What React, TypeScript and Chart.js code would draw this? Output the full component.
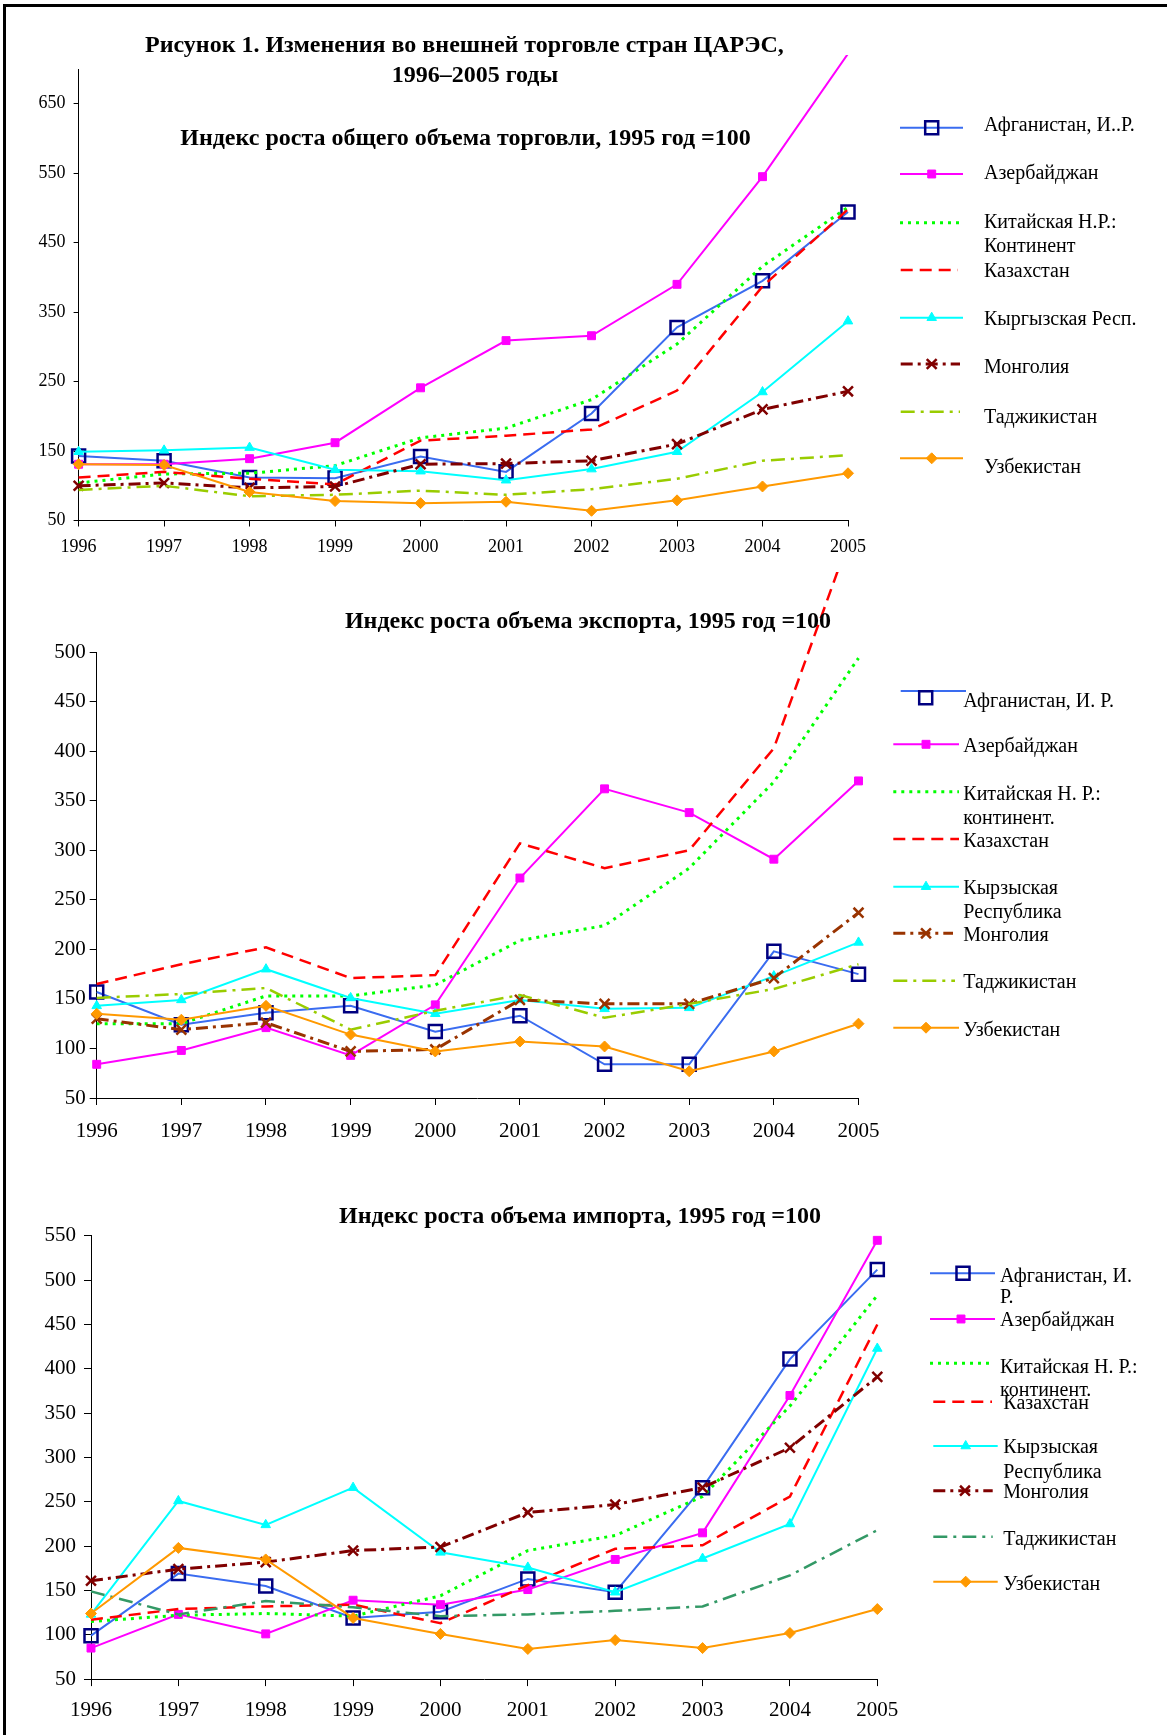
import React, { useEffect, useRef } from 'react';
import { Chart, registerables } from 'chart.js';
import { drawPoint } from 'chart.js/helpers';

Chart.register(...registerables);

const FONT = "'Liberation Serif', 'Times New Roman', serif";

// ---------- data ----------
const years = ['1996', '1997', '1998', '1999', '2000', '2001', '2002', '2003', '2004', '2005'];

const totalYTicks = [50, 150, 250, 350, 450, 550, 650];
const exportYTicks = [50, 100, 150, 200, 250, 300, 350, 400, 450, 500];
const importYTicks = [50, 100, 150, 200, 250, 300, 350, 400, 450, 500, 550];

// Total trade index, 1995 = 100
const totalAfghanistan = [143, 136, 112, 111, 142, 120, 204, 328, 395, 494];
const totalAzerbaijan = [131, 131, 139, 162, 241, 309, 316, 390, 545, 722];
const totalChina = [104, 117, 118, 129, 169, 183, 224, 304, 416, 501];
const totalKazakhstan = [112, 120, 110, 102, 165, 172, 181, 237, 387, 498];
const totalKyrgyz = [149, 151, 155, 123, 121, 108, 124, 149, 235, 337];
const totalMongolia = [100, 104, 97, 99, 131, 132, 136, 160, 210, 236];
const totalTajikistan = [94, 100, 85, 87, 93, 87, 95, 110, 136, 144];
const totalUzbekistan = [131, 130, 91, 78, 75, 77, 64, 79, 99, 118];

// Export index, 1995 = 100
const exportAfghanistan = [157, 124, 136, 143, 117, 133, 84, 84, 198, 175];
const exportAzerbaijan = [84, 98, 121, 93, 144, 272, 362, 338, 291, 370];
const exportChina = [125, 125, 153, 153, 164, 209, 224, 282, 369, 494];
const exportKazakhstan = [165, 185, 202, 171, 174, 307, 282, 300, 403, 640];
const exportKyrgyz = [143, 149, 180, 151, 135, 149, 140, 141, 173, 207];
const exportMongolia = [130, 119, 126, 97, 99, 149, 145, 145, 171, 237];
const exportTajikistan = [151, 155, 161, 119, 138, 154, 131, 145, 160, 185];
const exportUzbekistan = [135, 129, 143, 114, 97, 107, 102, 77, 97, 125];

// Import index, 1995 = 100
const importAfghanistan = [99, 169, 155, 119, 126, 163, 148, 266, 411, 512];
const importAzerbaijan = [85, 123, 101, 139, 134, 151, 185, 215, 370, 545];
const importChina = [115, 122, 124, 121, 144, 195, 212, 256, 358, 483];
const importKazakhstan = [117, 129, 132, 134, 113, 156, 197, 201, 256, 450];
const importKyrgyz = [123, 251, 224, 266, 193, 176, 148, 186, 225, 423];
const importMongolia = [161, 174, 182, 195, 199, 238, 247, 266, 311, 391];
const importTajikistan = [149, 123, 138, 131, 121, 123, 127, 132, 167, 218];
const importUzbekistan = [124, 198, 185, 119, 101, 84, 94, 85, 102, 129];

const totalNames = [
  ['Афганистан, И..Р.'], ['Азербайджан'], ['Китайская Н.Р.:', 'Континент'], ['Казахстан'],
  ['Кыргызская Респ.'], ['Монголия'], ['Таджикистан'], ['Узбекистан'],
];
const exportNames = [
  ['Афганистан, И. Р.'], ['Азербайджан'], ['Китайская Н. Р.:', 'континент.'], ['Казахстан'],
  ['Кырзыская', 'Республика'], ['Монголия'], ['Таджикистан'], ['Узбекистан'],
];
const importNames = [
  ['Афганистан, И.', 'Р.'], ['Азербайджан'], ['Китайская Н. Р.:', 'континент.'], ['Казахстан'],
  ['Кырзыская', 'Республика'], ['Монголия'], ['Таджикистан'], ['Узбекистан'],
];

const mainTitle1 = 'Рисунок 1. Изменения во внешней торговле стран ЦАРЭС,';
const mainTitle2 = '1996–2005 годы';
const totalTitle = 'Индекс роста общего объема торговли, 1995 год =100';
const exportTitle = 'Индекс роста объема экспорта, 1995 год =100';
const importTitle = 'Индекс роста объема импорта, 1995 год =100';

// ---------- styles ----------
function seriesStyles(mongoliaColor: string, tajikColor: string): any[] {
  return [
    { borderColor: '#3a6cf0', borderWidth: 2, pointStyle: 'rect', pointRadius: 9.2, pointBackgroundColor: 'rgba(0,0,0,0)', pointBorderColor: '#000080', pointBorderWidth: 2.5 },
    { borderColor: '#ff00ff', borderWidth: 2, pointStyle: 'rect', pointRadius: 5.6, pointBackgroundColor: '#ff00ff', pointBorderColor: '#ff00ff', pointBorderWidth: 1 },
    { borderColor: '#00ff00', borderWidth: 3, borderDash: [3, 5], pointRadius: 0 },
    { borderColor: '#ff0000', borderWidth: 2.5, borderDash: [12, 7], pointRadius: 0 },
    { borderColor: '#00ffff', borderWidth: 2, pointStyle: 'triangle', pointRadius: 5.5, pointBackgroundColor: '#00ffff', pointBorderColor: '#00ffff', pointBorderWidth: 1 },
    { borderColor: mongoliaColor, borderWidth: 3, borderDash: [12, 5, 3, 5], pointStyle: 'crossRot', pointRadius: 7, pointBackgroundColor: mongoliaColor, pointBorderColor: mongoliaColor, pointBorderWidth: 2.5 },
    { borderColor: tajikColor, borderWidth: 2.5, borderDash: [14, 6, 3, 6], pointRadius: 0 },
    { borderColor: '#ff9900', borderWidth: 2, pointStyle: 'rectRot', pointRadius: 5.5, pointBackgroundColor: '#ff9900', pointBorderColor: '#ff9900', pointBorderWidth: 1 },
  ];
}

type LegendItem = { y: number; x1: number; x2: number; mx: number; my?: number; tx: number; ty: number[] };

type PanelCfg = {
  top: number;
  height: number;
  area: { left: number; right: number; top: number; bottom: number };
  yMin: number;
  yMax: number;
  yTicks: number[];
  tickSize: number;
  yTickLen: number;
  yPad: number;
  xTickLen: number;
  xPad: number;
  series: number[][];
  names: string[][];
  styles: any[];
  extra?: Record<number, any>;
  texts: { text: string; x: number; y: number; size: number }[];
  legend: LegendItem[];
};

const W = 1167;

function overlayPlugin(cfg: PanelCfg) {
  return {
    id: 'overlay',
    afterDraw(chart: any) {
      const ctx = chart.ctx as CanvasRenderingContext2D;
      ctx.save();
      ctx.fillStyle = '#000';
      ctx.textAlign = 'center';
      ctx.textBaseline = 'alphabetic';
      for (const t of cfg.texts) {
        ctx.font = `bold ${t.size}px ${FONT}`;
        ctx.fillText(t.text, t.x, t.y);
      }
      // legend
      chart.data.datasets.forEach((ds: any, i: number) => {
        const it = cfg.legend[i];
        if (!it) return;
        ctx.save();
        ctx.strokeStyle = ds.borderColor;
        ctx.lineWidth = ds.borderWidth;
        ctx.setLineDash(ds.borderDash || []);
        ctx.beginPath();
        ctx.moveTo(it.x1, it.y);
        ctx.lineTo(it.x2, it.y);
        ctx.stroke();
        ctx.setLineDash([]);
        const r = Array.isArray(ds.pointRadius) ? ds.pointRadius[0] : ds.pointRadius;
        if (r > 0) {
          ctx.fillStyle = ds.pointBackgroundColor;
          ctx.strokeStyle = ds.pointBorderColor;
          ctx.lineWidth = ds.pointBorderWidth;
          drawPoint(ctx, { pointStyle: ds.pointStyle, rotation: 0, radius: r, borderWidth: ds.pointBorderWidth } as any, it.mx, it.my ?? it.y);
        }
        ctx.restore();
        ctx.fillStyle = '#000';
        ctx.textAlign = 'left';
        ctx.font = `20px ${FONT}`;
        cfg.names[i].forEach((line, k) => {
          ctx.fillText(line, it.tx, it.ty[k]);
        });
      });
      ctx.restore();
    },
  };
}

function buildConfig(cfg: PanelCfg): any {
  const datasets = cfg.series.map((values, i) => ({
    label: cfg.names[i].join(' '),
    data: values,
    ...cfg.styles[i],
    tension: 0,
    fill: false,
    order: cfg.series.length - i,
    clip: false,
    ...(cfg.extra && cfg.extra[i] ? cfg.extra[i] : {}),
  }));
  const axisCommon = {
    border: { display: true, color: '#000', width: 1 },
  };
  return {
    type: 'line',
    data: { labels: years, datasets },
    options: {
      responsive: false,
      animation: false,
      events: [],
      layout: { padding: { left: 0, top: cfg.area.top, right: W - cfg.area.right, bottom: 0 } },
      plugins: { legend: { display: false }, title: { display: false }, tooltip: { enabled: false } },
      scales: {
        x: {
          type: 'category',
          offset: false,
          ...axisCommon,
          grid: { display: true, drawOnChartArea: false, drawTicks: true, tickLength: cfg.xTickLen, color: '#000', lineWidth: 1, offset: false },
          ticks: { color: '#000', font: { family: FONT, size: cfg.tickSize }, padding: cfg.xPad, autoSkip: false, maxRotation: 0 },
          afterFit: (s: any) => { s.height = cfg.height - cfg.area.bottom; },
        },
        y: {
          type: 'linear',
          min: cfg.yMin,
          max: cfg.yMax,
          ...axisCommon,
          grid: { display: true, drawOnChartArea: false, drawTicks: true, tickLength: cfg.yTickLen, color: '#000', lineWidth: 1 },
          ticks: { color: '#000', font: { family: FONT, size: cfg.tickSize }, padding: cfg.yPad },
          afterBuildTicks: (s: any) => { s.ticks = cfg.yTicks.map((v) => ({ value: v })); },
          afterFit: (s: any) => { s.width = cfg.area.left; },
        },
      },
    },
    plugins: [overlayPlugin(cfg)],
  };
}

const panels: PanelCfg[] = [
  {
    top: 0,
    height: 560,
    area: { left: 78.6, right: 848, top: 69, bottom: 520.5 },
    yMin: 50, yMax: 700, yTicks: totalYTicks,
    tickSize: 18, yTickLen: 5, yPad: 8, xTickLen: 6, xPad: 10,
    series: [totalAfghanistan, totalAzerbaijan, totalChina, totalKazakhstan, totalKyrgyz, totalMongolia, totalTajikistan, totalUzbekistan],
    names: totalNames,
    styles: seriesStyles('#800000', '#99cc00'),
    extra: { 1: { clip: { left: 30, top: 14, right: 30, bottom: 30 }, pointRadius: [5.6, 5.6, 5.6, 5.6, 5.6, 5.6, 5.6, 5.6, 5.6, 0] } },
    texts: [
      { text: mainTitle1, x: 464.4, y: 51.8, size: 24 },
      { text: mainTitle2, x: 475, y: 82.1, size: 24 },
      { text: totalTitle, x: 465.5, y: 145, size: 24 },
    ],
    legend: [
      { y: 127.7, x1: 900, x2: 963, mx: 931.7, tx: 984, ty: [130.7] },
      { y: 174, x1: 900, x2: 963, mx: 931.7, tx: 984, ty: [179.3] },
      { y: 222.7, x1: 900, x2: 963, mx: 931.7, tx: 984, ty: [228.3, 252.3] },
      { y: 270, x1: 900.7, x2: 958, mx: 931.7, tx: 984, ty: [276.7] },
      { y: 317.7, x1: 900, x2: 963, mx: 931.7, tx: 984, ty: [325] },
      { y: 364, x1: 900.7, x2: 960, mx: 931.7, tx: 984, ty: [373.3] },
      { y: 411.7, x1: 900.7, x2: 960, mx: 931.7, tx: 984, ty: [423.3] },
      { y: 458.3, x1: 900, x2: 963, mx: 931.7, tx: 984, ty: [473.3] },
    ],
  },
  {
    top: 560,
    height: 590,
    area: { left: 96.7, right: 858.5, top: 92.1, bottom: 538 },
    yMin: 50, yMax: 500, yTicks: exportYTicks,
    tickSize: 21, yTickLen: 7, yPad: 4, xTickLen: 7, xPad: 14,
    series: [exportAfghanistan, exportAzerbaijan, exportChina, exportKazakhstan, exportKyrgyz, exportMongolia, exportTajikistan, exportUzbekistan],
    names: exportNames,
    styles: seriesStyles('#993300', '#99cc00'),
    extra: { 3: { clip: { left: 30, top: 80, right: 30, bottom: 30 } } },
    texts: [{ text: exportTitle, x: 588, y: 68.1, size: 24 }],
    legend: [
      { y: 131, x1: 900.7, x2: 966, mx: 925.7, my: 137.7, tx: 963.3, ty: [146.7] },
      { y: 184.3, x1: 893.3, x2: 959, mx: 926, tx: 963.3, ty: [191.7] },
      { y: 231.7, x1: 893.3, x2: 959, mx: 926, tx: 963.3, ty: [240, 264] },
      { y: 279, x1: 893.3, x2: 959, mx: 926, tx: 963.3, ty: [287.3] },
      { y: 326.7, x1: 893.3, x2: 959, mx: 926, tx: 963.3, ty: [334, 358.3] },
      { y: 373.3, x1: 893.3, x2: 953, mx: 926, tx: 963.3, ty: [381] },
      { y: 420.7, x1: 893.3, x2: 955, mx: 926, tx: 963.3, ty: [428.3] },
      { y: 467.7, x1: 893.3, x2: 959, mx: 926, tx: 963.3, ty: [475.7] },
    ],
  },
  {
    top: 1150,
    height: 585,
    area: { left: 91, right: 877.3, top: 85.9, bottom: 529.1 },
    yMin: 50, yMax: 550, yTicks: importYTicks,
    tickSize: 21, yTickLen: 7, yPad: 8, xTickLen: 7, xPad: 12,
    series: [importAfghanistan, importAzerbaijan, importChina, importKazakhstan, importKyrgyz, importMongolia, importTajikistan, importUzbekistan],
    names: importNames,
    styles: seriesStyles('#800000', '#339966'),
    texts: [{ text: importTitle, x: 580, y: 72.5, size: 24 }],
    legend: [
      { y: 123.3, x1: 930, x2: 995, mx: 963, tx: 1000, ty: [131.7, 153.3] },
      { y: 169, x1: 930, x2: 995, mx: 961, tx: 1000, ty: [176] },
      { y: 213.3, x1: 930, x2: 993, mx: 963, tx: 1000, ty: [223.3, 245.7] },
      { y: 251.7, x1: 933.3, x2: 992, mx: 963, tx: 1003.3, ty: [259.3] },
      { y: 296, x1: 933.3, x2: 997.7, mx: 965.7, tx: 1003.3, ty: [303.3, 327.7] },
      { y: 340.7, x1: 933.3, x2: 992.7, mx: 965, tx: 1003.3, ty: [348.3] },
      { y: 386.7, x1: 933.3, x2: 992.7, mx: 965, tx: 1003.3, ty: [395] },
      { y: 431.7, x1: 933.3, x2: 997.7, mx: 965.7, tx: 1003.3, ty: [440] },
    ],
  },
];

function Panel({ cfg }: { cfg: PanelCfg }) {
  const ref = useRef<HTMLCanvasElement>(null);
  useEffect(() => {
    if (!ref.current) return;
    const chart = new Chart(ref.current, buildConfig(cfg));
    return () => chart.destroy();
  }, [cfg]);
  return (
    <canvas
      ref={ref}
      width={W}
      height={cfg.height}
      style={{ position: 'absolute', left: 0, top: cfg.top, width: W, height: cfg.height }}
    />
  );
}

export default function App() {
  return (
    <div style={{ position: 'absolute', left: 0, top: 0, width: W, height: 1735, background: '#fff', overflow: 'hidden' }}>
      <div style={{ position: 'absolute', left: 3, top: 4, right: 0, bottom: 0, borderLeft: '3px solid #000', borderTop: '3px solid #000' }} />
      {panels.map((p, i) => (
        <Panel key={i} cfg={p} />
      ))}
    </div>
  );
}
